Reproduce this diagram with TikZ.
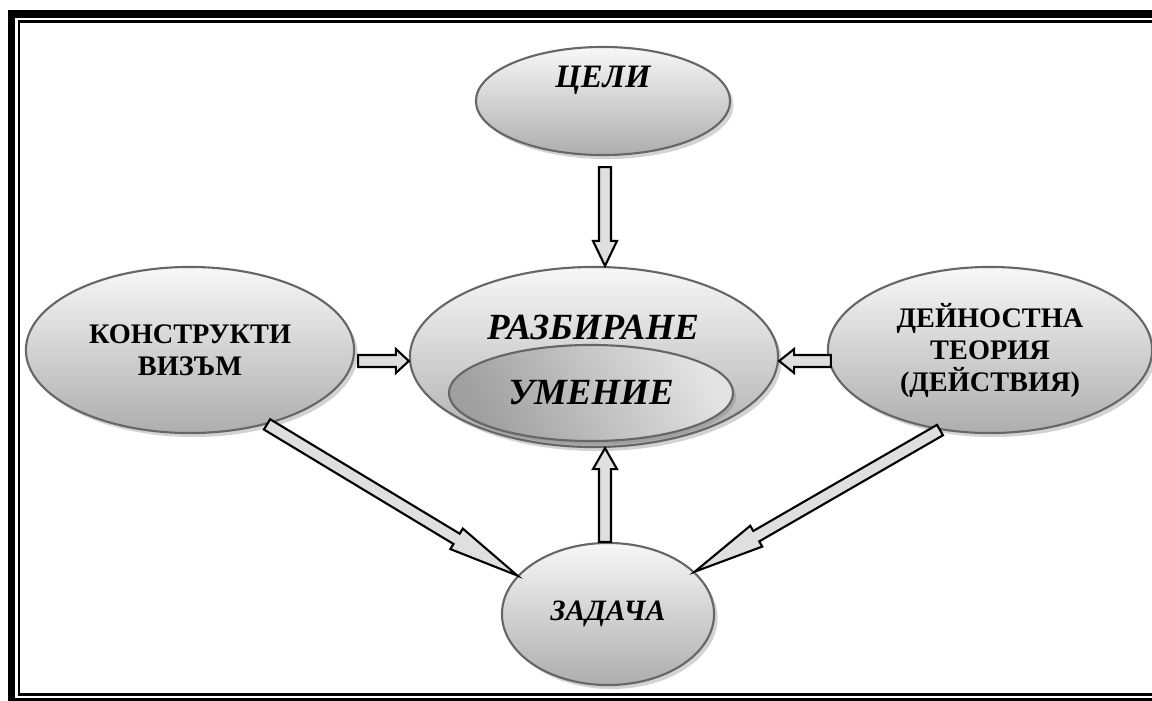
\documentclass[tikz,border=0pt]{standalone}
\usepackage{fontspec}
\setmainfont{Liberation Serif}
\usetikzlibrary{shapes.geometric,calc,shadows}

% hollow block arrow: #1 tail, #2 tip, #3 head length
\newcommand{\fatarrow}[3]{%
  \coordinate (hb) at ($(#2)!#3!(#1)$);
  \filldraw[arrowbody] ($(#1)!0.06cm!90:(#2)$) -- ($(hb)!0.06cm!90:(#2)$) -- ($(hb)!0.12cm!90:(#2)$) -- (#2)
    -- ($(hb)!0.12cm!-90:(#2)$) -- ($(hb)!0.06cm!-90:(#2)$) -- ($(#1)!0.06cm!-90:(#2)$) -- cycle;
}

\begin{document}
\begin{tikzpicture}[x=0.01cm,y=-0.01cm,
  bubble/.style={ellipse,draw=black!60,line width=0.6pt,top color=gray!6,bottom color=gray!64,
    drop shadow={shadow xshift=0.035cm,shadow yshift=-0.04cm,opacity=0.35},inner sep=0pt,align=center},
  arrowbody/.style={fill=gray!25,draw=black,line width=0.6pt,line join=miter},
  plain/.style={font=\fontsize{8.05}{9.1}\selectfont\bfseries,align=center},
  slant/.style={font=\fontsize{8.4}{9}\selectfont\bfseries\itshape},
  big/.style={font=\fontsize{10.5}{12}\selectfont\bfseries\itshape}]

\useasboundingbox (0,0) rectangle (1152,700);
\clip (0,0) rectangle (1152,700);

%frame
\draw[line width=2pt] (11.5,14) rectangle (1170,702);
\draw[line width=0.7pt] (19,21.5) rectangle (1165,694.5);

%ellipses
\node[bubble,minimum width=2.54cm,minimum height=1.08cm] (celi) at (603,101) {};
\node[slant,font=\fontsize{9.3}{10}\selectfont\bfseries\itshape] (celitext) at (603,80) {ЦЕЛИ};

\node[bubble,minimum width=3.68cm,minimum height=1.80cm] (razb) at (594,357) {};
\node[big] (razbtext) at (593,327) {РАЗБИРАНЕ};
\node[ellipse,draw=black!60,line width=0.6pt,top color=gray!22,bottom color=gray!75,shading angle=-60,
  drop shadow={shadow xshift=0.03cm,shadow yshift=-0.035cm,opacity=0.35},
  minimum width=2.84cm,minimum height=0.96cm,inner sep=0pt,big] (umen) at (591,393) {УМЕНИЕ};

\node[bubble,plain,minimum width=3.28cm,minimum height=1.66cm] (konstr) at (190,350) {КОНСТРУКТИ\\ВИЗЪМ};
\node[bubble,plain,minimum width=3.24cm,minimum height=1.66cm] (dein) at (990,350) {ДЕЙНОСТНА\\ТЕОРИЯ\\(ДЕЙСТВИЯ)};
\node[bubble,slant,minimum width=2.12cm,minimum height=1.42cm] (zad) at (608,614) {ЗАДАЧА};

%arrow ends
\coordinate (c1) at ($(celi.south)+(2,11)$);
\coordinate (c2) at (c1 |- razb.north);
\coordinate (k1) at ($(konstr.east)+(3,11)$);
\coordinate (k2) at (razb.west |- k1);
\coordinate (d1) at ($(dein.west)+(4,11)$);
\coordinate (d2) at (razb.east |- d1);
\coordinate (z1) at ($(zad.north)+(-3,0)$);
\coordinate (z2) at (z1 |- razb.south);

%arrows
\fatarrow{c1}{c2}{0.25cm}
\fatarrow{k1}{k2}{0.13cm}
\fatarrow{d1}{d2}{0.15cm}
\fatarrow{z1}{z2}{0.21cm}
\fatarrow{konstr.-44}{zad.157}{0.71cm}
\fatarrow{dein.-122}{zad.26}{0.71cm}
\end{tikzpicture}
\end{document}
